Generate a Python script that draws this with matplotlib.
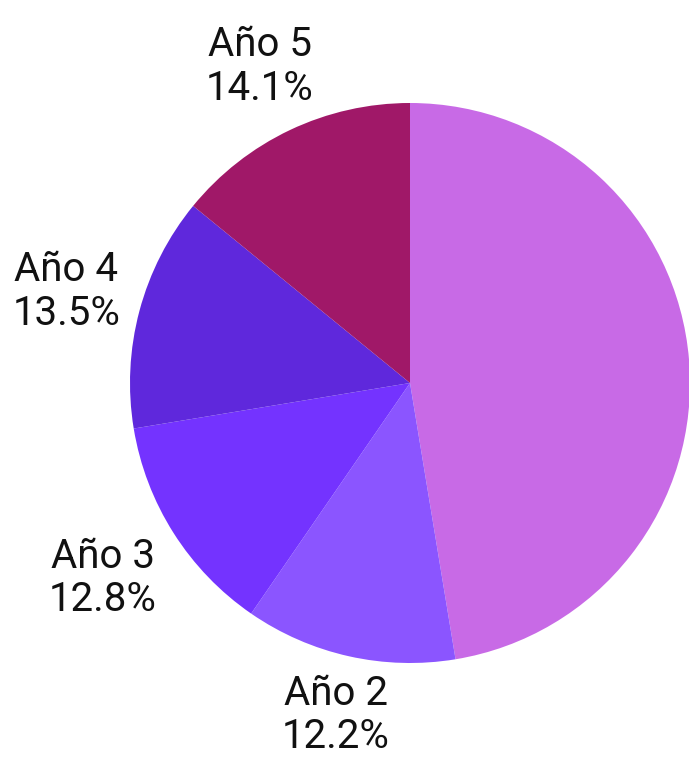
import matplotlib.pyplot as plt

labels = ["Año 1", "Año 2", "Año 3", "Año 4", "Año 5"]
shares = [47.4, 12.2, 12.8, 13.5, 14.1]
colors = ["#C86AE6", "#8B55FF", "#7433FF", "#5F28DC", "#A01868"]
show_label = [False, True, True, True, True]  # Año 1 label falls outside the canvas
label_dist = [1.25, 1.215, 1.30, 1.27, 1.25]

plt.rcParams['font.family'] = ['Roboto', 'DejaVu Sans']

fig = plt.figure(figsize=(6.89, 7.64), dpi=100)
# pie centre at (410, 383) px, radius 280 px
ax = fig.add_axes([130 / 689, 101 / 764, 560 / 689, 560 / 764])

pie_labels = [f"{l}\n{s:.1f}%" if show else "" for l, s, show in zip(labels, shares, show_label)]
wedges, texts = ax.pie(shares, colors=colors, startangle=90, counterclock=False,
                       labels=pie_labels, labeldistance=1.0, radius=1.0,
                       wedgeprops=dict(linewidth=0),
                       textprops=dict(fontsize=29, color="#111111"))
for t, d in zip(texts, label_dist):
    x, y = t.get_position()
    t.set_position((x * d, y * d))
    t.set_ha("center")
    t.set_va("center")
    t.set_linespacing(1.15)

ax.set_xlim(-1, 1)
ax.set_ylim(-1, 1)
ax.set_aspect("equal")
ax.axis("off")

fig.savefig("out.png", dpi=100)
